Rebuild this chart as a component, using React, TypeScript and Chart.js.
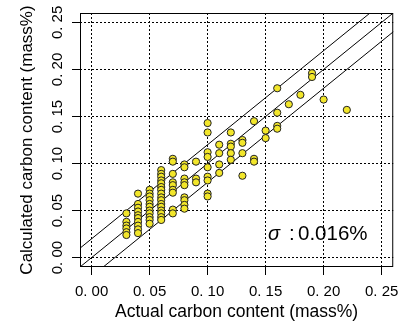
import React, { useEffect, useRef } from "react";
import { Chart, registerables } from "chart.js";

Chart.register(...registerables);

// ---- data ----
const actualLevels = [0.03, 0.04, 0.05, 0.06, 0.07, 0.08, 0.09, 0.1, 0.11, 0.12, 0.13, 0.14, 0.15, 0.16, 0.17, 0.18, 0.19, 0.2, 0.22];
const calculatedAt = [
  [0.047, 0.038, 0.034, 0.031, 0.027, 0.024],
  [0.068, 0.057, 0.053, 0.049, 0.045, 0.042, 0.038, 0.034, 0.03, 0.026],
  [0.072, 0.068, 0.065, 0.061, 0.057, 0.054, 0.05, 0.047, 0.043, 0.04, 0.036],
  [0.093, 0.089, 0.086, 0.082, 0.079, 0.075, 0.072, 0.068, 0.064, 0.061, 0.057, 0.054, 0.05, 0.047, 0.043, 0.04],
  [0.105, 0.102, 0.089, 0.08, 0.077, 0.072, 0.069, 0.051, 0.047],
  [0.099, 0.096, 0.084, 0.08, 0.077, 0.064, 0.061, 0.056, 0.052],
  [0.102, 0.084, 0.08],
  [0.143, 0.133, 0.112, 0.107, 0.096, 0.086, 0.082, 0.068, 0.065],
  [0.12, 0.111, 0.099, 0.09],
  [0.133, 0.121, 0.118, 0.111, 0.104],
  [0.125, 0.122, 0.111, 0.087],
  [0.145, 0.105, 0.102],
  [0.135, 0.127],
  [0.18, 0.154, 0.14, 0.137],
  [0.163],
  [0.173],
  [0.196, 0.192],
  [0.168],
  [0.157],
];
const tickValues = [0, 0.05, 0.1, 0.15, 0.2, 0.25];
const tickLabels = ["0. 00", "0. 05", "0. 10", "0. 15", "0. 20", "0. 25"];
const axisMin = -0.01;
const axisMax = 0.26;
const bandOffsets = [0.02, 0, -0.02];
const lineSpan = [-0.05, 0.31];
const xTitle = "Actual carbon content (mass%)";
const yTitle = "Calculated carbon content (mass%)";
const sigmaSymbol = "σ";
const sigmaColon = ":";
const sigmaValue = "0.016%";

const FONT = '"Liberation Sans", Arial, Helvetica, sans-serif';

function labelFor(v: number) {
  const i = tickValues.findIndex((t) => Math.abs(t - v) < 1e-9);
  return i >= 0 ? tickLabels[i] : "";
}

export default function App() {
  const ref = useRef<HTMLCanvasElement>(null);

  useEffect(() => {
    if (!ref.current) return;
    const points = actualLevels.flatMap((x, i) => calculatedAt[i].map((y) => ({ x, y })));
    const lines = bandOffsets.map((off) => ({
      type: "line" as const,
      data: lineSpan.map((x) => ({ x, y: x + off })),
      borderColor: "#000",
      borderWidth: 1,
      pointRadius: 0,
      showLine: true,
      fill: false,
      order: 2,
    }));

    const framePlugin = {
      id: "frame",
      afterDraw(chart: any) {
        const { ctx, chartArea } = chart;
        const { left, top, right, bottom } = chartArea;
        ctx.save();
        ctx.strokeStyle = "#000";
        ctx.lineWidth = 1;
        ctx.strokeRect(left + 0.5, top + 0.5, right - left - 1, bottom - top - 1);
        ctx.fillStyle = "#000";
        ctx.textBaseline = "alphabetic";
        ctx.textAlign = "left";
        const bx = left + 188;
        const by = top + 226.5;
        ctx.font = `italic 20px ${FONT}`;
        ctx.fillText(sigmaSymbol, bx, by);
        ctx.font = `20.5px ${FONT}`;
        ctx.fillText(sigmaColon, bx + 21, by);
        ctx.fillText(sigmaValue, bx + 30, by);
        ctx.restore();
      },
    };

    const tickFont = { family: FONT, size: 15 };

    const chart = new Chart(ref.current, {
      type: "scatter",
      data: {
        datasets: [
          {
            data: points,
            pointRadius: 3.6,
            pointBorderWidth: 1,
            pointBorderColor: "#222",
            pointBackgroundColor: "#f2e62a",
            backgroundColor: "#f2e62a",
            borderColor: "#222",
            order: 1,
          } as any,
          ...lines,
        ],
      },
      options: {
        animation: false,
        responsive: true,
        maintainAspectRatio: false,
        events: [],
        layout: { padding: { top: 13, right: 4, left: 0, bottom: 0 } },
        plugins: { legend: { display: false }, tooltip: { enabled: false } },
        scales: {
          x: {
            type: "linear",
            min: axisMin,
            max: axisMax,
            afterBuildTicks: (s: any) => {
              s.ticks = tickValues.map((v) => ({ value: v }));
            },
            afterFit: (s: any) => {
              s.height = 60;
            },
            ticks: {
              callback: (v: any) => labelFor(Number(v)),
              font: tickFont,
              color: "#000",
              padding: 7.5,
              minRotation: 0,
              maxRotation: 0,
              autoSkip: false,
            },
            grid: { color: "#000", lineWidth: 1, tickLength: 8, tickBorderDash: [], tickColor: "#000" } as any,
            border: { display: false, dash: [2, 2] },
            title: {
              display: true,
              text: xTitle,
              font: { family: FONT, size: 17.5 },
              color: "#000",
              padding: { top: 0, bottom: 4 },
            },
          },
          y: {
            type: "linear",
            min: axisMin,
            max: axisMax,
            afterBuildTicks: (s: any) => {
              s.ticks = tickValues.map((v) => ({ value: v }));
            },
            afterFit: (s: any) => {
              s.width = 80;
            },
            ticks: {
              callback: (v: any) => labelFor(Number(v)),
              font: tickFont,
              color: "#000",
              padding: -3,
              minRotation: 90,
              maxRotation: 90,
              crossAlign: "center",
              autoSkip: false,
            },
            grid: { color: "#000", lineWidth: 1, tickLength: 8, tickBorderDash: [], tickColor: "#000" } as any,
            border: { display: false, dash: [2, 2] },
            title: {
              display: true,
              text: yTitle,
              font: { family: FONT, size: 17 },
              color: "#000",
              padding: { top: 17, bottom: 0 },
            },
          },
        },
      },
      plugins: [framePlugin],
    } as any);

    return () => chart.destroy();
  }, []);

  return (
    <div style={{ position: "absolute", left: 0, top: 0, width: 406, height: 327, background: "#fff" }}>
      <canvas ref={ref} />
    </div>
  );
}
